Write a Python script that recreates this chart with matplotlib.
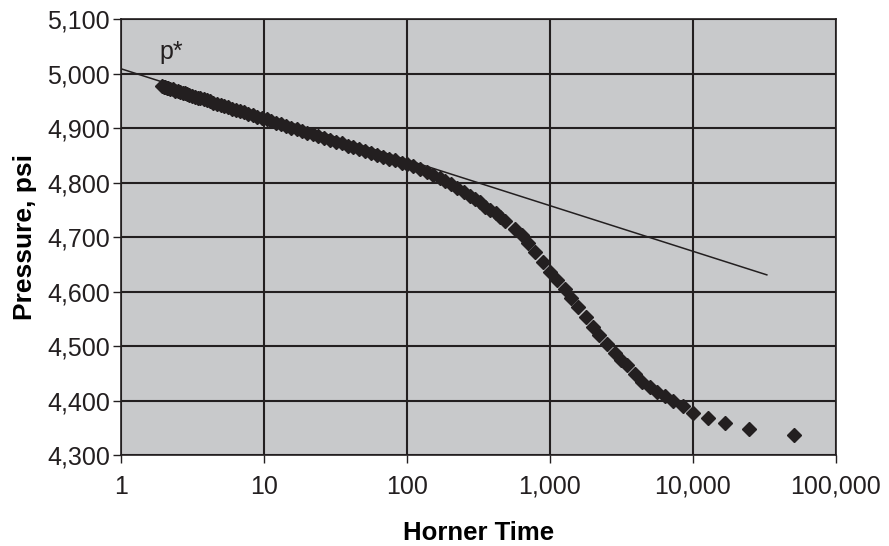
import matplotlib.pyplot as plt
from matplotlib.ticker import FuncFormatter, NullLocator

plt.rcParams['font.family'] = ['Liberation Sans', 'DejaVu Sans']

# data
horner_time = [1.94, 2.0, 2.05, 2.1, 2.15, 2.2, 2.3, 2.4, 2.5, 2.6, 2.7, 2.8, 2.9, 3.0,
               3.15, 3.3, 3.45, 3.6, 3.8, 4.0, 4.2, 4.4, 4.7, 5.0, 5.3, 5.6, 6.0, 6.4,
               6.8, 7.3, 7.8, 8.4, 9.0, 9.7, 10.5, 11.3, 12.2, 13.2, 14.3, 15.5, 17,
               18.5, 20, 22, 24, 26.5, 29, 32, 35, 38.5, 42, 46, 51, 56, 62, 68, 75,
               83, 92, 100, 110, 123, 138, 152, 170, 185, 205, 225, 250, 275, 300,
               325, 355, 385, 420, 450, 484, 569, 637, 702, 785, 893, 1000, 1119,
               1273, 1403, 1570, 1786, 1999, 2203, 2506, 2851, 3140, 3454, 3928,
               4398, 5003, 5600, 6370, 7245, 8510, 10000, 12730, 16750, 24640, 50800]
pressure = [4977, 4976, 4975, 4974, 4973, 4972, 4971, 4969, 4968, 4966, 4965, 4964,
            4962, 4961, 4959, 4958, 4956, 4955, 4953, 4951, 4949, 4947, 4945, 4943,
            4940, 4938, 4936, 4934, 4931, 4929, 4926, 4924, 4921, 4918, 4916, 4913,
            4910, 4907, 4904, 4901, 4898, 4895, 4892, 4889, 4886, 4882, 4879, 4875,
            4872, 4868, 4865, 4862, 4858, 4855, 4851, 4848, 4844, 4841, 4837, 4834,
            4830, 4825, 4820, 4815, 4808, 4803, 4797, 4790, 4783, 4776, 4770, 4764,
            4756, 4750, 4744, 4737, 4730, 4716, 4704, 4690, 4673, 4655, 4636, 4622,
            4605, 4589, 4572, 4554, 4536, 4521, 4504, 4488, 4475, 4466, 4450, 4434,
            4425, 4416, 4409, 4400, 4390, 4378, 4368, 4359, 4348, 4337]

# straight-line extrapolation to p*
trend_time = [1, 33000]
trend_pressure = [5009, 4631]

fig = plt.figure(figsize=(8.89, 5.46), dpi=100)
ax = fig.add_axes([0.136, 0.166, 0.804, 0.799])
ax.set_facecolor('#c8c9cb')

ax.plot(trend_time, trend_pressure, color='#231f20', lw=1.1, zorder=3)
ax.plot(horner_time, pressure, linestyle='none', marker='D', ms=7.2,
        color='#231f20', zorder=4)

ax.set_xscale('log')
ax.set_xlim(1, 100000)
ax.set_ylim(4300, 5100)
ax.set_xticks([1, 10, 100, 1000, 10000, 100000])
ax.xaxis.set_minor_locator(NullLocator())
ax.set_yticks(range(4300, 5101, 100))
fmt = FuncFormatter(lambda v, pos: f'{v:,.0f}')
ax.xaxis.set_major_formatter(fmt)
ax.yaxis.set_major_formatter(fmt)

ax.grid(True, color='#231f20', lw=1.5)
ax.set_axisbelow(True)
for s in ax.spines.values():
    s.set_color('#231f20')
    s.set_linewidth(1.2)
ax.tick_params(direction='out', length=6, width=1, color='#231f20',
               labelsize=18, labelcolor='#231f20', pad=8)
ax.tick_params(axis='y', pad=2)

ax.text(1.85, 5026, 'p*', fontsize=18, color='#231f20')

ax.set_xlabel('Horner Time', fontsize=18.5, fontweight='bold', labelpad=16)
ax.set_ylabel('Pressure, psi', fontsize=19, fontweight='bold', labelpad=7)

fig.savefig('out.png', dpi=100)
